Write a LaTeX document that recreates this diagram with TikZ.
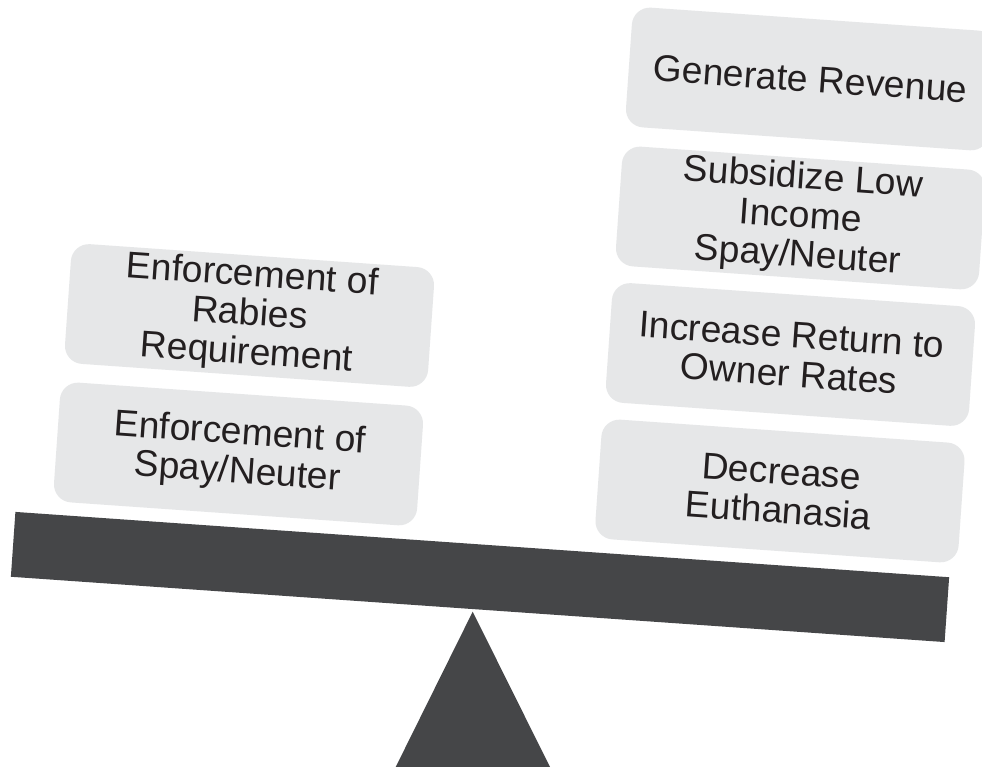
\documentclass[tikz,border=0pt]{standalone}
\usepackage{fontspec}
\setmainfont{Liberation Sans}
\definecolor{boxgray}{HTML}{E6E7E8}
\definecolor{beamgray}{HTML}{454648}
\definecolor{txt}{HTML}{231F20}
\tikzset{
  card/.style={fill=boxgray, rounded corners=18pt, minimum width=364pt, minimum height=120pt,
    inner sep=0pt, rotate=-4, align=center, text=txt,
    font=\fontsize{37.2}{39}\selectfont},
  beamstyle/.style={fill=beamgray, minimum width=936pt, minimum height=65pt, inner sep=0pt, rotate=-4},
}
\begin{document}
\begin{tikzpicture}[x=1pt,y=1pt]
\useasboundingbox (0,0) rectangle (982,767);
\clip (0,0) rectangle (982,767);
\fill[white] (0,0) rectangle (982,767);
% fulcrum
\coordinate (apex) at (472.7,155.3);
\coordinate (bl) at (395.7,0);
\coordinate (br) at (550,0);
\fill[beamgray] (apex) -- (bl) -- (br) -- cycle;
% beam
\node[beamstyle] (beam) at (480,190) {};
% left pan
\node[card] (rabies) at (249.5,451.5) {Enforcement of\\Rabies\\Requirement};
\node[card] (spay) at (238.5,313) {Enforcement of\\Spay/Neuter};
% right pan
\node[card] (revenue) at (810.5,688) {Generate Revenue};
\node[card] (subsidize) at (800.5,549) {Subsidize Low\\Income\\Spay/Neuter};
\node[card] (rto) at (790.5,412.5) {Increase Return to\\Owner Rates};
\node[card] (euth) at (780,276) {Decrease\\Euthanasia};
\end{tikzpicture}
\end{document}
